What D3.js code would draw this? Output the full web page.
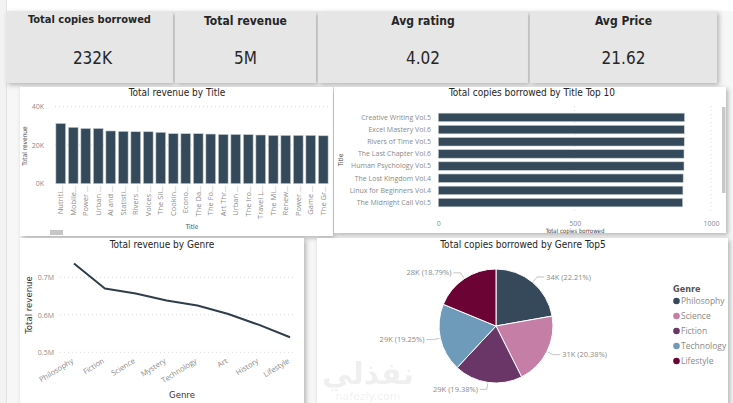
<!DOCTYPE html>
<html>
<head>
<meta charset="utf-8">
<script src="https://cdn.jsdelivr.net/npm/d3@7"></script>
<style>
  body { margin: 0; background: #f7f7f7; overflow: hidden; }
  svg { display: block; }
  text { font-family: "Liberation Sans Narrow", "DejaVu Sans Condensed", sans-serif; }
  .tick-lbl { font-family: "Open Sans", "Noto Sans", sans-serif; fill: #8a8a8a; }
</style>
</head>
<body>
<div id="wrapper"></div>
<script>
// ---- data ----
const kpiTitles = ["Total copies borrowed", "Total revenue", "Avg rating", "Avg Price"];
const kpiValues = ["232K", "5M", "4.02", "21.62"];

const titleNames = ["Nutriti...", "Mobile...", "Power ...", "Urban ...", "AI and ...", "Statisti...",
  "Rivers ...", "Voices ...", "The Sil...", "Cookin...", "Econo...", "The Da...", "The Fo...",
  "Art Thr...", "Urban ...", "The Iro...", "Travel L...", "The Mi...", "Renew...", "Power ...",
  "Game ...", "The Gr..."];
const titleRevenue = [31300, 29300, 28700, 28700, 27400, 27200, 27000, 27000, 26700, 26000, 26000,
  26000, 25800, 25600, 25600, 25500, 25300, 25100, 25100, 25100, 25100, 24900];
const revTicks = [0, 20000, 40000];

const topTitles = ["Creative Writing Vol.5", "Excel Mastery Vol.6", "Rivers of Time Vol.5",
  "The Last Chapter Vol.6", "Human Psychology Vol.5", "The Lost Kingdom Vol.4",
  "Linux for Beginners Vol.4", "The Midnight Call Vol.5"];
const topCopies = [903, 902, 902, 901, 901, 898, 897, 896];
const copyTicks = [0, 500, 1000];

const genres = ["Philosophy", "Fiction", "Science", "Mystery", "Technology", "Art", "History", "Lifestyle"];
const genreRevenue = [737000, 670000, 657000, 638000, 625000, 602000, 573000, 540000];
const genreTicks = [500000, 600000, 700000];

const pieGenres = ["Philosophy", "Science", "Fiction", "Technology", "Lifestyle"];
const pieCopies = [33570, 30800, 29290, 29095, 28400];
const pieColors = ["#36495a", "#c57fa6", "#6a3567", "#6e9bba", "#6b0434"];

// ---- setup ----
const W = 733, H = 403;
const svg = d3.select("#wrapper").append("svg").attr("width", W).attr("height", H);

const defs = svg.append("defs");
const f = defs.append("filter").attr("id", "shadow").attr("x", "-10%").attr("y", "-10%")
  .attr("width", "125%").attr("height", "130%");
f.append("feDropShadow").attr("dx", 2).attr("dy", 2).attr("stdDeviation", 2.5)
  .attr("flood-color", "#000").attr("flood-opacity", 0.28);

// top white band and left strip
svg.append("rect").attr("x", 0).attr("y", 0).attr("width", W).attr("height", 11).attr("fill", "#ffffff");
svg.append("rect").attr("x", 0).attr("y", 0).attr("width", 6).attr("height", H).attr("fill", "#f3f3f3");
svg.append("line").attr("x1", 6.5).attr("x2", 6.5).attr("y1", 0).attr("y2", H).attr("stroke", "#e2e2e2");

// ---- KPI cards ----
const cards = [{x: 6, w: 167}, {x: 175, w: 141}, {x: 318, w: 210}, {x: 530, w: 187}];
cards.forEach((c, i) => {
  svg.append("rect").attr("x", c.x).attr("y", 11).attr("width", c.w).attr("height", 72)
    .attr("fill", "#e6e6e6").attr("filter", "url(#shadow)");
  svg.append("text").attr("x", c.x + c.w / 2).attr("y", i === 0 ? 23 : 25)
    .attr("text-anchor", "middle").style("font-size", i === 0 ? "11px" : "12px").style("font-weight", "bold")
    .attr("fill", "#262626").text(kpiTitles[i]);
  svg.append("text").attr("x", c.x + c.w / 2 + (i === 0 ? 3 : 0)).attr("y", 64)
    .attr("text-anchor", "middle").style("font-size", "17px").attr("fill", "#262626")
    .text(kpiValues[i]);
});

// panels
function panel(x, y, w, h) {
  svg.append("rect").attr("x", x).attr("y", y).attr("width", w).attr("height", h)
    .attr("fill", "#ffffff").attr("filter", "url(#shadow)");
}
panel(20, 87, 313, 149);
panel(334, 87, 392, 146);
panel(20, 238, 284, 170);
panel(317, 238, 411, 170);

function chartTitle(x, y, t) {
  svg.append("text").attr("x", x).attr("y", y).attr("text-anchor", "middle")
    .style("font-size", "10px").attr("fill", "#252525").text(t);
}

// ---- Total revenue by Title ----
chartTitle(177, 96, "Total revenue by Title");
const xA = d3.scaleBand().domain(d3.range(titleNames.length)).range([54.5, 329.5])
  .paddingInner(0.22).paddingOuter(0.11);
const yA = d3.scaleLinear().domain([0, 40000]).range([183.7, 106.7]);

const gA = svg.append("g");
gA.selectAll(".grid").data(revTicks.filter(d => d > 0)).join("line")
  .attr("x1", 55).attr("x2", 329).attr("y1", d => yA(d)).attr("y2", d => yA(d))
  .attr("stroke", "#d6d6d6").attr("stroke-dasharray", "1,3");
gA.selectAll(".bar").data(titleRevenue).join("rect")
  .attr("x", (d, i) => xA(i)).attr("width", xA.bandwidth())
  .attr("y", d => yA(d)).attr("height", d => yA(0) - yA(d))
  .attr("fill", "#34495a").attr("stroke", "#c9cfd3").attr("stroke-width", 0.6);

const axA = gA.append("g").attr("transform", "translate(47,0)")
  .call(d3.axisLeft(yA).tickValues(revTicks).tickSize(0).tickFormat(d => d / 1000 + "K"));
axA.select(".domain").remove();
axA.selectAll("text").attr("class", "tick-lbl").style("font-size", "7px").attr("dx", 0);

const axAx = gA.append("g").attr("transform", "translate(0,186)")
  .call(d3.axisBottom(xA).tickSize(0).tickFormat(i => titleNames[i]));
axAx.select(".domain").remove();
axAx.selectAll("text").attr("class", "tick-lbl").style("font-size", "7.5px")
  .attr("transform", "rotate(-90)").attr("text-anchor", "end")
  .attr("x", 0).attr("y", 0).attr("dx", 0).attr("dy", "0.35em");

svg.append("text").attr("x", 192).attr("y", 229).attr("text-anchor", "middle")
  .style("font-size", "6.5px").attr("fill", "#444").text("Title");
svg.append("text").attr("transform", "translate(27,146) rotate(-90)").attr("text-anchor", "middle")
  .style("font-size", "6.5px").attr("fill", "#444").text("Total revenue");
svg.append("rect").attr("x", 50).attr("y", 230).attr("width", 13).attr("height", 5).attr("fill", "#c6c6c6");

// ---- Total copies borrowed by Title Top 10 ----
chartTitle(532, 96, "Total copies borrowed by Title Top 10");
const xB = d3.scaleLinear().domain([0, 1000]).range([438.3, 711]);
const yB = d3.scaleBand().domain(topTitles).range([109.5, 210.5]).padding(0.3);
const gB = svg.append("g");
gB.selectAll(".grid").data([500, 1000]).join("line")
  .attr("x1", d => xB(d)).attr("x2", d => xB(d)).attr("y1", 106).attr("y2", 212)
  .attr("stroke", "#dedede").attr("stroke-dasharray", "1,3");
gB.selectAll(".bar").data(topCopies).join("rect")
  .attr("x", xB(0)).attr("y", (d, i) => yB(topTitles[i]))
  .attr("width", d => xB(d) - xB(0)).attr("height", yB.bandwidth())
  .attr("fill", "#34495a").attr("stroke", "#c9cfd3").attr("stroke-width", 0.6);

const axB = gB.append("g").attr("transform", "translate(434,0)")
  .call(d3.axisLeft(yB).tickSize(0));
axB.select(".domain").remove();
axB.selectAll("text").attr("class", "tick-lbl").style("font-size", "7px").attr("fill", "#7a7a7a");

const axBx = gB.append("g").attr("transform", "translate(0,218)")
  .call(d3.axisBottom(xB).tickValues(copyTicks).tickSize(0).tickFormat(d3.format("d")));
axBx.select(".domain").remove();
axBx.selectAll("text").attr("class", "tick-lbl").style("font-size", "7px");

svg.append("text").attr("x", 575).attr("y", 233).attr("text-anchor", "middle")
  .style("font-size", "6px").attr("fill", "#444").text("Total copies borrowed");
svg.append("text").attr("transform", "translate(343,160) rotate(-90)").attr("text-anchor", "middle")
  .style("font-size", "6.5px").attr("fill", "#444").text("Title");
svg.append("rect").attr("x", 722).attr("y", 107).attr("width", 3.5).attr("height", 86).attr("fill", "#c8c8c8");

// ---- Total revenue by Genre ----
chartTitle(162, 248, "Total revenue by Genre");
const xC = d3.scalePoint().domain(genres).range([74, 290]);
const yC = d3.scaleLinear().domain([500000, 700000]).range([352.3, 277.3]);
const gC = svg.append("g");
gC.selectAll(".grid").data(genreTicks).join("line")
  .attr("x1", 60).attr("x2", 293).attr("y1", d => yC(d)).attr("y2", d => yC(d))
  .attr("stroke", "#dadada").attr("stroke-dasharray", "1,3");
const line = d3.line().x((d, i) => xC(genres[i])).y(d => yC(d));
gC.append("path").attr("d", line(genreRevenue)).attr("fill", "none")
  .attr("stroke", "#2f3e4a").attr("stroke-width", 2).attr("stroke-linejoin", "round");

const axC = gC.append("g").attr("transform", "translate(57,0)")
  .call(d3.axisLeft(yC).tickValues(genreTicks).tickSize(0).tickFormat(d => d / 1e6 + "M"));
axC.select(".domain").remove();
axC.selectAll("text").attr("class", "tick-lbl").style("font-size", "7px");

const axCx = gC.append("g").attr("transform", "translate(-2,360)")
  .call(d3.axisBottom(xC).tickSize(0));
axCx.select(".domain").remove();
axCx.selectAll("text").attr("class", "tick-lbl").style("font-size", "7.5px")
  .attr("transform", "rotate(-32)").attr("text-anchor", "end")
  .attr("x", 0).attr("y", 0).attr("dy", "0.35em");

svg.append("text").attr("x", 182).attr("y", 398).attr("text-anchor", "middle")
  .style("font-size", "9.5px").attr("fill", "#333").text("Genre");
svg.append("text").attr("transform", "translate(32,305) rotate(-90)").attr("text-anchor", "middle")
  .style("font-size", "9.5px").attr("fill", "#333").text("Total revenue");

// ---- Total copies borrowed by Genre Top5 ----
chartTitle(523, 248, "Total copies borrowed by Genre Top5");
const cx = 496, cy = 326, r = 57;
const total = d3.sum(pieCopies);
const pie = d3.pie().sort(null).value(d => d)(pieCopies);
const arc = d3.arc().innerRadius(0).outerRadius(r);
const gD = svg.append("g").attr("transform", `translate(${cx},${cy})`);
gD.selectAll("path").data(pie).join("path").attr("d", arc)
  .attr("fill", (d, i) => pieColors[i]).attr("stroke", "#fff").attr("stroke-width", 1);

const fmtK = d => Math.round(d / 1000) + "K";
pie.forEach((d, i) => {
  const a = (d.startAngle + d.endAngle) / 2;
  const p1 = [Math.sin(a) * (r + 1), -Math.cos(a) * (r + 1)];
  const p2 = [Math.sin(a) * 64, -Math.cos(a) * 64];
  const right = Math.sin(a) > 0;
  const p3 = [p2[0] + (right ? 7 : -7), p2[1]];
  gD.append("polyline").attr("points", [p1, p2, p3].map(p => p.join(",")).join(" "))
    .attr("fill", "none").attr("stroke", "#b5b5b5").attr("stroke-width", 0.8);
  gD.append("text").attr("class", "tick-lbl").attr("x", p3[0] + (right ? 2 : -2)).attr("y", p3[1])
    .attr("dy", "0.35em").attr("text-anchor", right ? "start" : "end")
    .style("font-size", "7.5px").attr("fill", "#7a7a7a")
    .text(`${fmtK(d.data)} (${(d.data / total * 100).toFixed(2)}%)`);
});

const lg = svg.append("g").attr("transform", "translate(673,0)");
lg.append("text").attr("x", 0).attr("y", 292).style("font-size", "9px").style("font-weight", "bold")
  .attr("fill", "#555").text("Genre");
pieGenres.forEach((g, i) => {
  const y = 301 + i * 15;
  lg.append("circle").attr("cx", 3.5).attr("cy", y).attr("r", 3.3).attr("fill", pieColors[i]);
  lg.append("text").attr("class", "tick-lbl").attr("x", 8).attr("y", y).attr("dy", "0.35em")
    .style("font-size", "8.5px").attr("fill", "#777").text(g);
});

// watermark
svg.append("text").attr("x", 368).attr("y", 384).attr("text-anchor", "middle")
  .style("font-family", "'DejaVu Sans', sans-serif").style("font-size", "30px").style("font-weight", "bold")
  .attr("fill", "#000").attr("opacity", 0.06).text("نفذلي");
svg.append("text").attr("x", 368).attr("y", 400).attr("text-anchor", "middle")
  .style("font-family", "'DejaVu Sans', sans-serif").style("font-size", "11px")
  .attr("fill", "#000").attr("opacity", 0.06).text("nafezly.com");
</script>
</body>
</html>
